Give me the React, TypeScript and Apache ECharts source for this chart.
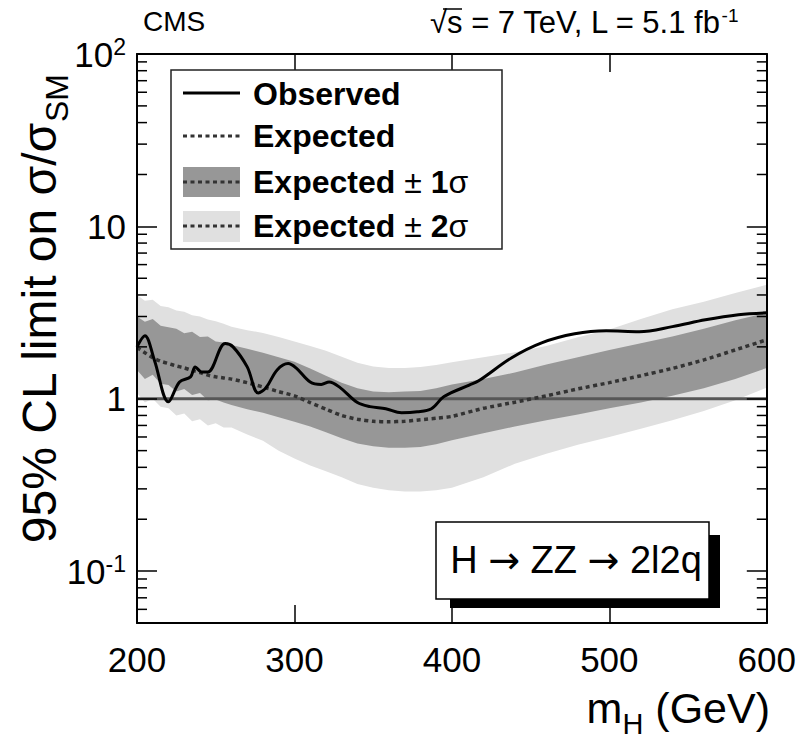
import React, { useEffect, useRef } from 'react';
import * as echarts from 'echarts';

const FONT = '"Liberation Sans", Arial, Helvetica, sans-serif';
const ARROW_FONT = '"DejaVu Sans", sans-serif';

// Mass grid (GeV) for the expected limit and its bands
const bandMass = [200, 205, 210, 215, 220, 225, 230, 235, 240, 245, 250, 255, 260, 270, 280, 290, 300, 310, 320, 330, 340, 350, 360, 370, 380, 390, 400, 420, 440, 460, 480, 500, 520, 540, 560, 580, 600];
const expected = [1.98, 1.85, 1.73, 1.65, 1.6, 1.55, 1.51, 1.46, 1.42, 1.37, 1.34, 1.32, 1.3, 1.24, 1.17, 1.1, 1.04, 0.95, 0.87, 0.8, 0.76, 0.74, 0.735, 0.74, 0.755, 0.77, 0.79, 0.88, 0.955, 1.04, 1.14, 1.24, 1.36, 1.5, 1.68, 1.92, 2.2];
const oneSigmaUp = [3.0, 2.8, 2.9, 2.65, 2.6, 2.55, 2.4, 2.45, 2.28, 2.3, 2.15, 2.12, 2.05, 1.95, 1.85, 1.74, 1.64, 1.5, 1.36, 1.24, 1.15, 1.1, 1.09, 1.1, 1.11, 1.15, 1.21, 1.3, 1.42, 1.58, 1.74, 1.92, 2.1, 2.3, 2.55, 2.85, 3.15];
const oneSigmaDown = [1.47, 1.3, 1.38, 1.22, 1.2, 1.1, 1.14, 1.05, 1.08, 0.98, 0.99, 0.95, 0.92, 0.87, 0.83, 0.78, 0.735, 0.69, 0.64, 0.59, 0.55, 0.53, 0.52, 0.52, 0.525, 0.545, 0.575, 0.63, 0.69, 0.75, 0.81, 0.88, 0.95, 1.04, 1.15, 1.3, 1.51];
const twoSigmaUp = [4.0, 3.7, 3.75, 3.45, 3.4, 3.25, 3.2, 3.05, 3.0, 2.88, 2.82, 2.72, 2.62, 2.5, 2.41, 2.28, 2.15, 2.02, 1.9, 1.75, 1.62, 1.54, 1.51, 1.51, 1.53, 1.57, 1.63, 1.74, 1.86, 2.02, 2.27, 2.52, 2.9, 3.3, 3.65, 4.1, 4.58];
const twoSigmaDown = [1.08, 0.95, 1.0, 0.9, 0.88, 0.8, 0.82, 0.74, 0.76, 0.7, 0.72, 0.68, 0.68, 0.62, 0.57, 0.5, 0.45, 0.41, 0.38, 0.35, 0.32, 0.305, 0.295, 0.29, 0.29, 0.295, 0.305, 0.35, 0.42, 0.48, 0.54, 0.6, 0.67, 0.75, 0.85, 0.98, 1.16];

// Observed limit
const observedMass = [200, 205, 211, 220, 227, 234, 237, 241, 245, 256, 261, 270, 277, 282, 289, 296, 301, 310, 317, 322, 329, 340, 348, 358, 368, 378, 387, 395, 411, 417, 438, 457, 478, 498, 519, 540, 561, 582, 600];
const observed = [2.0, 2.32, 1.68, 0.96, 1.25, 1.34, 1.53, 1.43, 1.43, 2.09, 2.0, 1.53, 1.08, 1.16, 1.47, 1.6, 1.51, 1.25, 1.21, 1.25, 1.16, 0.95, 0.9, 0.875, 0.83, 0.84, 0.875, 1.03, 1.2, 1.27, 1.73, 2.11, 2.38, 2.48, 2.45, 2.62, 2.87, 3.07, 3.15];

// Axis settings
const xMin = 200;
const xMax = 600;
const xInterval = 100;
const yMin = 0.05;
const yMax = 100;
const yMinorTicks = [0.06, 0.07, 0.08, 0.09, 0.2, 0.3, 0.4, 0.5, 0.6, 0.7, 0.8, 0.9, 2, 3, 4, 5, 6, 7, 8, 9, 20, 30, 40, 50, 60, 70, 80, 90];

const App: React.FC = () => {
  const ref = useRef<HTMLDivElement>(null);

  useEffect(() => {
    if (!ref.current) return;
    const chart = echarts.init(ref.current, undefined, { renderer: 'svg' });

    const band = (up: number[], down: number[], color: string) => ({
      type: 'custom',
      silent: true,
      z: 1,
      data: [[400, 1]],
      renderItem: (_params: any, api: any) => {
        const pts: number[][] = [];
        for (let i = 0; i < bandMass.length; i++) pts.push(api.coord([bandMass[i], up[i]]));
        for (let i = bandMass.length - 1; i >= 0; i--) pts.push(api.coord([bandMass[i], down[i]]));
        return { type: 'polygon', shape: { points: pts }, style: { fill: color, stroke: 'none' } };
      },
    });

    const yLabel = (v: number) => {
      const e = Math.round(Math.log10(v) * 1000) / 1000;
      if (!Number.isInteger(e)) return '';
      if (e === 0) return '{b|1}';
      if (e === 1) return '{b|10}';
      return `{b|10}{s|${e}}`;
    };

    const axisLineStyle = { color: '#000', width: 2 };
    const tickStyle = { color: '#000', width: 1.5 };
    const legendRich = {
      b: { fontSize: 32, fontWeight: 'bold', fontFamily: FONT, fill: '#000' },
      n: { fontSize: 32, fontFamily: FONT, fill: '#000' },
    };

    const option: any = {
      animation: false,
      backgroundColor: '#fff',
      grid: { left: 137, top: 54, right: 31, bottom: 116, containLabel: false },
      xAxis: [
        {
          type: 'value', min: xMin, max: xMax, interval: xInterval, position: 'bottom', z: 5,
          axisLine: { show: true, lineStyle: axisLineStyle },
          axisTick: { show: true, inside: true, length: 18, lineStyle: tickStyle },
          splitLine: { show: false },
          axisLabel: { show: true, fontSize: 35, fontFamily: FONT, color: '#000', margin: 19 },
        },
        {
          type: 'value', min: xMin, max: xMax, interval: xInterval, position: 'top', z: 5,
          axisLine: { show: true, lineStyle: axisLineStyle },
          axisTick: { show: true, inside: true, length: 18, lineStyle: tickStyle },
          splitLine: { show: false },
          axisLabel: { show: false },
        },
      ],
      yAxis: [
        {
          type: 'log', logBase: 10, min: yMin, max: yMax, position: 'left', z: 5,
          axisLine: { show: true, lineStyle: axisLineStyle },
          axisTick: { show: true, inside: true, length: 20, lineStyle: tickStyle },
          splitLine: { show: false },
          axisLabel: {
            show: true, margin: 11, formatter: yLabel,
            rich: {
              b: { fontSize: 35, fontFamily: FONT, color: '#000', lineHeight: 38 },
              s: { fontSize: 23, fontFamily: FONT, color: '#000', verticalAlign: 'top', lineHeight: 23 },
            },
          },
        },
        {
          type: 'log', logBase: 10, min: yMin, max: yMax, position: 'right', z: 5,
          axisLine: { show: true, lineStyle: axisLineStyle },
          axisTick: { show: true, inside: true, length: 20, lineStyle: tickStyle },
          splitLine: { show: false },
          axisLabel: { show: false },
        },
      ],
      series: [
        band(twoSigmaUp, twoSigmaDown, '#e0e0e0'),
        band(oneSigmaUp, oneSigmaDown, '#979797'),
        {
          type: 'line', silent: true, z: 3, symbol: 'none',
          data: [[xMin, 1], [xMax, 1]],
          lineStyle: { color: '#575757', width: 3 },
        },
        {
          type: 'line', silent: true, z: 4, symbol: 'none', smooth: 0.2,
          data: bandMass.map((m, i) => [m, expected[i]]),
          lineStyle: { color: '#333', width: 3.5, type: [4, 3.5] },
        },
        {
          type: 'line', silent: true, z: 4, symbol: 'none', smooth: 0.35,
          data: observedMass.map((m, i) => [m, observed[i]]),
          lineStyle: { color: '#000', width: 3 },
        },
        {
          type: 'custom', silent: true, z: 6,
          data: yMinorTicks.map((v) => [xMin, v]),
          renderItem: (_params: any, api: any) => {
            const v = api.value(1);
            const l = api.coord([xMin, v]);
            const r = api.coord([xMax, v]);
            return {
              type: 'group',
              children: [
                { type: 'line', shape: { x1: l[0], y1: l[1], x2: l[0] + 10, y2: l[1] }, style: { stroke: '#000', lineWidth: 1.5 } },
                { type: 'line', shape: { x1: r[0], y1: r[1], x2: r[0] - 10, y2: r[1] }, style: { stroke: '#000', lineWidth: 1.5 } },
              ],
            };
          },
        },
      ],
      graphic: [
        // header
        { type: 'text', x: 143, y: 21, style: { text: 'CMS', fontSize: 28, fontFamily: FONT, fill: '#000', verticalAlign: 'middle', align: 'left' } },
        {
          type: 'text', x: 430, y: 22,
          style: {
            text: '{a|\u221As = 7 TeV, L = 5.1 fb}{s|-1}', verticalAlign: 'middle', align: 'left',
            rich: {
              a: { fontSize: 31, fontFamily: FONT, fill: '#000', lineHeight: 32 },
              s: { fontSize: 19, fontFamily: FONT, fill: '#000', verticalAlign: 'top', lineHeight: 19 },
            },
          },
        },
        { type: 'line', shape: { x1: 443, y1: 9, x2: 462, y2: 9 }, style: { stroke: '#000', lineWidth: 1.5 } },
        // y axis title (rotated; subscript lowered via bottom alignment in a taller line)
        {
          type: 'text', x: 15, y: 309, rotation: Math.PI / 2,
          style: {
            text: '{a|95% CL limit on \u03C3/\u03C3}{s|SM}', align: 'center', verticalAlign: 'top',
            rich: {
              a: { fontSize: 48, fontFamily: FONT, fill: '#000', lineHeight: 50, verticalAlign: 'top' },
              s: { fontSize: 32, fontFamily: FONT, fill: '#000', lineHeight: 58, verticalAlign: 'bottom' },
            },
          },
        },
        // x axis title
        {
          type: 'text', x: 770, y: 686,
          style: {
            text: '{a|m}{s|H}{a| (GeV)}', align: 'right', verticalAlign: 'top',
            rich: {
              a: { fontSize: 43, fontFamily: FONT, fill: '#000', lineHeight: 46, verticalAlign: 'top' },
              s: { fontSize: 29, fontFamily: FONT, fill: '#000', lineHeight: 52, verticalAlign: 'bottom' },
            },
          },
        },
        // legend
        { type: 'rect', z: 10, shape: { x: 171, y: 70, width: 331, height: 179 }, style: { fill: '#fff', stroke: '#222', lineWidth: 1.5 } },
        { type: 'line', z: 11, shape: { x1: 183, y1: 93, x2: 240, y2: 93 }, style: { stroke: '#000', lineWidth: 3 } },
        { type: 'line', z: 11, shape: { x1: 183, y1: 136, x2: 240, y2: 136 }, style: { stroke: '#333', lineWidth: 3, lineDash: [4, 3.5] } },
        { type: 'rect', z: 11, shape: { x: 183, y: 167, width: 57, height: 30 }, style: { fill: '#979797' } },
        { type: 'line', z: 12, shape: { x1: 183, y1: 182, x2: 240, y2: 182 }, style: { stroke: '#333', lineWidth: 3, lineDash: [4, 3.5] } },
        { type: 'rect', z: 11, shape: { x: 183, y: 211, width: 57, height: 31 }, style: { fill: '#e0e0e0' } },
        { type: 'line', z: 12, shape: { x1: 183, y1: 226, x2: 240, y2: 226 }, style: { stroke: '#333', lineWidth: 3, lineDash: [4, 3.5] } },
        { type: 'text', z: 12, x: 253, y: 94, style: { text: 'Observed', fontSize: 32, fontWeight: 'bold', fontFamily: FONT, fill: '#000', verticalAlign: 'middle' } },
        { type: 'text', z: 12, x: 253, y: 136, style: { text: 'Expected', fontSize: 32, fontWeight: 'bold', fontFamily: FONT, fill: '#000', verticalAlign: 'middle' } },
        {
          type: 'text', z: 12, x: 253, y: 182,
          style: { text: '{b|Expected }{n|\u00B1}{b| 1}{n|\u03C3}', verticalAlign: 'middle', rich: legendRich },
        },
        {
          type: 'text', z: 12, x: 253, y: 226,
          style: { text: '{b|Expected }{n|\u00B1}{b| 2}{n|\u03C3}', verticalAlign: 'middle', rich: legendRich },
        },
        // process label box
        { type: 'rect', z: 10, shape: { x: 450, y: 535, width: 270, height: 73 }, style: { fill: '#000' } },
        { type: 'rect', z: 11, shape: { x: 436, y: 522, width: 273, height: 77 }, style: { fill: '#fff', stroke: '#000', lineWidth: 1.5 } },
        {
          type: 'text', z: 12, x: 576, y: 560,
          style: {
            text: '{t|H }{r|\u2192}{t| ZZ }{r|\u2192}{t| 2l2q}', align: 'center', verticalAlign: 'middle',
            rich: {
              t: { fontSize: 38, fontFamily: FONT, fill: '#000' },
              r: { fontSize: 38, fontFamily: ARROW_FONT, fill: '#000' },
            },
          },
        },
      ],
    };

    chart.setOption(option);
    return () => chart.dispose();
  }, []);

  return <div ref={ref} style={{ position: 'fixed', left: 0, top: 0, width: 799, height: 739, background: '#fff' }} />;
};

export default App;
